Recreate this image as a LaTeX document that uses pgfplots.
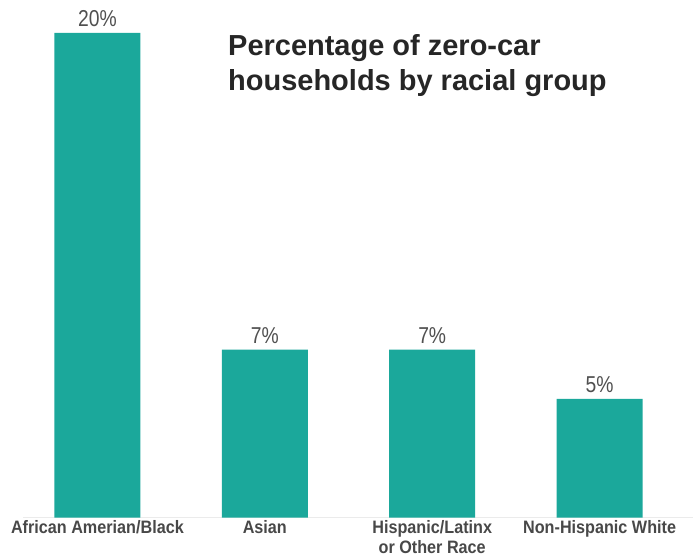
\documentclass[border=0pt]{standalone}
\usepackage{fontspec}
\setmainfont{Liberation Sans}
\newfontfamily\condfont[FakeStretch=0.84]{Liberation Sans}
\newfontfamily\tickfont[FakeStretch=0.9]{Liberation Sans}
\usepackage{pgfplots}
\pgfplotsset{compat=1.18}
\definecolor{teal1}{RGB}{27,168,155}
\definecolor{lab}{RGB}{72,72,72}
\definecolor{val}{RGB}{80,80,80}
\begin{document}
\begin{tikzpicture}
\begin{axis}[
  scale only axis,
  width=670pt, height=518pt,
  xmin=-0.445, xmax=3.555,
  ymin=0, ymax=21.36,
  axis y line=none,
  axis x line=bottom,
  x axis line style={draw=black!8, line width=1pt, -},
  xtick={0,1,2,3},
  xticklabels={African Amerian/Black, Asian, Hispanic/Latinx\\or Other Race, Non-Hispanic White},
  xticklabel style={font=\tickfont\bfseries\fontsize{18}{20}\selectfont, text=lab, align=center, anchor=north, yshift=1pt},
  major tick length=0pt,
  ytick=\empty,
  clip=false,
  point meta=explicit symbolic,
  nodes near coords,
  nodes near coords style={font=\condfont\fontsize{23}{25}\selectfont, text=val, anchor=south, yshift=3pt},
]
\addplot[ybar, bar width=86pt, fill=teal1, draw=none] coordinates {
  (0,20) [20\%]
  (1,6.93) [7\%]
  (2,6.93) [7\%]
  (3,4.9) [5\%]
};
\node[anchor=north west, align=left, font=\bfseries\fontsize{29}{35}\selectfont, text=black!85, inner sep=0pt] at (axis cs:0.78,19.95) {Percentage of zero-car\\households by racial group};
\path (axis cs:-0.582,-1.732) rectangle (axis cs:3.555,21.36);
\end{axis}
\end{tikzpicture}
\end{document}
